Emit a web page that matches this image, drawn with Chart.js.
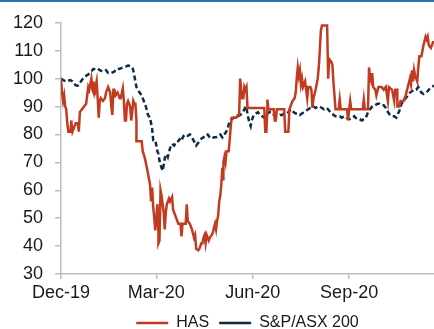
<!DOCTYPE html>
<html>
<head>
<meta charset="utf-8">
<script src="https://cdn.jsdelivr.net/npm/chart.js@4.4.1/dist/chart.umd.min.js"></script>
<style>
  html, body { margin: 0; padding: 0; background: #fff; overflow: hidden; }
  #wrap { position: relative; width: 434px; height: 341px; }
  #topRule { position: absolute; left: 0; top: 0; width: 434px; height: 2px; background: #2a74b5; }
  canvas { display: block; }
</style>
</head>
<body>
<div id="wrap">
  <canvas id="chart" width="434" height="341"></canvas>
  <div id="topRule"></div>
</div>
<script>
// Days counted from 1 Dec 2019; both series rebased to 100.
const tickDays = [0, 91, 183, 275];
const tickLabels = ['Dec-19', 'Mar-20', 'Jun-20', 'Sep-20'];
const yTicks = [30, 40, 50, 60, 70, 80, 90, 100, 110, 120];

const hasDays = [0,1,2,3,4,5,6,7,9,10,10,11,13,14,16,17,18,20,22,24,26,27,29,30,31,31,32,33,34,35,36,37,38,40,42,43,45,47,48,49,50,51,52,54,56,57,59,60,61,62,63,64,66,67,68,69,70,71,72,72,77,78,80,82,84,85,86,87,88,89,90,92,93,93,94,95,96,97,98,99,100,101,103,104,106,107,109,111,112,114,115,116,119,120,121,123,125,127,128,129,131,132,133,134,135,136,137,138,139,141,142,144,145,147,148,149,150,151,152,153,154,155,155,156,157,158,160,161,162,163,165,167,169,170,171,172,173,174,175,176,177,178,194,195,196,197,197,198,203,204,205,206,213,214,217,218,219,221,223,224,225,226,227,228,229,230,231,233,234,235,236,238,239,240,241,243,245,246,247,248,249,254,255,256,258,259,260,261,262,265,266,267,273,274,275,276,277,288,289,290,293,294,295,296,297,298,300,301,303,306,308,310,312,313,316,318,319,321,321,323,324,327,329,331,333,334,335,336,337,338,340,341,342,344,346,348,349,350,351,353,354,355,356];
const hasValues = [100,95,92,94,90,89,84,81,81,85,84,81,83,84,84,81,88,89,90,91,97,96,100,96,95,99,94,97,99,93,86,92,93,92,93,95,97,95,90,87,96,96,94,95,93,93,96.5,92,85,85,91,92,90,85,88,92,91,91,85,77.6,77.6,74,71.6,68,64,62,56,61,54,50,45.6,55,45,41,42,60,58,55,52,46,52,55,57,56,57.6,53,51,49,48,48,43.5,48,48,55,49,48,46,43,44,39,38.5,39,40,41,41,43,44,41,44,42,43,44,45,48,46,49,51,56,58,62,68,63.5,70,72,70,74,74,78,83,86,86,86,87,87,100,96,93,93,97,96,97,89.5,89.5,81,81,89,92.5,89,89,85,85,89,89,81,81,89,90,92,93,95,100,104,101,103,98,100,97,99,96,93,97,97,96,89.5,93,96,100,104,110,117,119,119,100,107,106,105,99,94,89,89,92.5,89,89,85,89,92,89,89,92.5,89,89,104,100,99,102,97,96,94,97,97,96,97,92,97,96,92,96,96,90,90,92,92,94,97,100,98,103,99,103,101,99,104,108,108,112,115,114,115,112,111,112,113,113];

const asxDays = [0,2,5,9,11,14,16,18,21,24,26,29,31,33,35,37,40,43,45,48,51,52,56,59,62,64,66,68,69,71,72,75,77,79,81,83,85,87,88,90,92,93,94,96,97,98,99,101,102,104,106,108,110,112,114,115,117,119,121,123,125,127,129,131,133,134,136,138,140,142,144,146,148,150,152,154,155,157,159,161,163,165,167,169,171,173,175,176,177,178,180,181,182,184,186,188,190,192,194,196,197,199,201,203,205,207,209,211,213,215,217,218,220,222,224,226,228,230,232,234,236,238,239,241,243,245,247,249,251,253,255,257,259,260,262,264,266,268,270,272,274,276,278,280,281,283,285,287,289,291,293,295,297,299,300,302,304,306,308,310,312,314,316,318,320,321,323,325,327,329,331,333,335,337,339,341,342,344,346,348,350,352,354,356];
const asxValues = [100,99.5,99,99.5,99,97.6,97.5,98.5,100,101,101.5,102.6,103.5,103.3,103.6,103,102.5,103,102,102,102.5,103.3,103.5,104,104.3,104.7,104.5,104,103,99,97,95,94,92,90,87,86,82,78,78,74,73,70.5,68,67,69,71.5,73,72,75,76.6,76,77.5,77.6,78.7,78,79.5,80,79.5,80,79,77.5,76,77,78,78.5,79,80,80,79,78.5,79,79,79.5,80,79,80,80.5,82,84.8,85.5,86,86,86.5,87,87.5,89,89.8,90,87,84,83,85,87,87.5,88,87,86.5,86,87.5,87.5,88,88,87,86.5,86.5,87,87,87.5,87.5,88,88.5,89,88,87.5,87.5,87,87.5,88,88.5,89,89.5,89.5,90,89.5,90,90,89.5,89,89.5,89,88,87.5,87,86.5,86.5,86.5,86,86.5,86.3,85.5,85.5,86,86.5,86,85.5,85.5,85,85.5,86,88,89,90,90.5,90.5,91,91,90.5,90.5,89.5,88,87,86.5,86.5,86,87,88.5,91,92,93,94,95,95.5,96,96,97,96,95,94.5,95,95.5,96.5,97,97.5];

const toPoints = (days, vals) => days.map((d, i) => ({ x: d, y: vals[i] }));

const textColor = '#1a1a1a';
const axisColor = '#bdbdbd';
const tickFont = { family: '"Liberation Sans", Arial, sans-serif', size: 18 };

new Chart(document.getElementById('chart'), {
  type: 'line',
  data: {
    datasets: [
      {
        label: 'HAS',
        data: toPoints(hasDays, hasValues),
        borderColor: '#c23b21',
        borderWidth: 2.5,
        pointRadius: 0,
        tension: 0,
        fill: false
      },
      {
        label: 'S&P/ASX 200',
        data: toPoints(asxDays, asxValues),
        borderColor: '#0d2c47',
        borderWidth: 2.5,
        borderDash: [5, 3],
        pointRadius: 0,
        tension: 0,
        fill: false
      }
    ]
  },
  options: {
    responsive: false,
    animation: false,
    layout: { padding: { top: 21, right: 0, bottom: 0, left: 0 } },
    plugins: {
      tooltip: { enabled: false },
      legend: {
        position: 'bottom',
        fullSize: false,
        labels: {
          usePointStyle: true,
          pointStyle: 'line',
          pointStyleWidth: 32,
          padding: 10,
          color: textColor,
          font: { family: '"Liberation Sans", Arial, sans-serif', size: 16 }
        }
      }
    },
    scales: {
      x: {
        type: 'linear',
        min: 0,
        max: 356,
        afterBuildTicks: (scale) => { scale.ticks = tickDays.map(v => ({ value: v })); },
        afterFit: (scale) => { scale.height = 31; },
        ticks: {
          autoSkip: false,
          maxRotation: 0,
          padding: 3,
          color: textColor,
          font: tickFont,
          callback: (value) => tickLabels[tickDays.indexOf(value)]
        },
        grid: { drawOnChartArea: false, drawTicks: true, tickLength: 5, color: axisColor, lineWidth: 1.5 },
        border: { display: true, color: axisColor, width: 1.5 }
      },
      y: {
        min: 30,
        max: 120,
        afterBuildTicks: (scale) => { scale.ticks = yTicks.map(v => ({ value: v })); },
        afterFit: (scale) => { scale.width = 61; },
        ticks: {
          padding: 12,
          color: textColor,
          font: tickFont
        },
        grid: { drawOnChartArea: false, drawTicks: true, tickLength: 6, color: axisColor, lineWidth: 1.5 },
        border: { display: true, color: axisColor, width: 1.5 }
      }
    }
  }
});
</script>
</body>
</html>
